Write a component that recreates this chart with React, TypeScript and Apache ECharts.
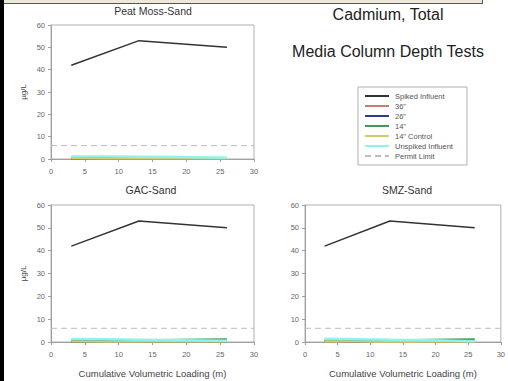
import React, { useEffect, useRef } from "react";
import * as echarts from "echarts";

const panelTitles = ["Peat Moss-Sand", "GAC-Sand", "SMZ-Sand"];
const seriesNames = ["Spiked Influent", '36"', '26"', '14"', '14" Control', "Unspiked Influent", "Permit Limit"];
const seriesColors = ["#333333", "#c4826a", "#2e3a8c", "#3f9a5c", "#d2cc6a", "#8ef2ee", "#bdbdbd"];

const spikedX = [3, 13, 26];
const spikedY = [42, 53, 50];
const permitX = [0, 30];
const permitY = [6, 6];
const lowX = [3, 8, 13, 19, 26];

// per panel: 36", 26", 14", 14" Control, Unspiked Influent
const peat36 = [0.1, 0.1, 0, 0, 0];
const peat26 = [0.1, 0, 0, 0, 0];
const peat14 = [0.6, 0.7, 0.5, 0.3, 0.1];
const peatCtl = [0.2, 0.1, 0.1, 0.1, 0.1];
const peatUn = [1.1, 1.1, 1.0, 0.9, 0.6];

const gac36 = [0.5, 0.4, 0, 0, 0];
const gac26 = [0.1, 0.1, 0.1, 0, 0];
const gac14 = [0.3, 0.2, 0.8, 1.0, 1.2];
const gacCtl = [0.2, 0.1, 0.1, 0.1, 0.1];
const gacUn = [1.3, 1.2, 1.0, 0.8, 0.5];

const smz36 = [0.2, 0.1, 0.1, 0, 0];
const smz26 = [0.6, 0.2, 0.5, 0.2, 0.1];
const smz14 = [0.8, 0.9, 0.7, 1.0, 1.2];
const smzCtl = [0.3, 0.2, 0.1, 0.1, 0.1];
const smzUn = [1.4, 1.2, 1.0, 0.8, 0.3];

const xTicks = [0, 5, 10, 15, 20, 25, 30];
const yTicks = [0, 10, 20, 30, 40, 50, 60];

const panelLow = [
  [peat36, peat26, peat14, peatCtl, peatUn],
  [gac36, gac26, gac14, gacCtl, gacUn],
  [smz36, smz26, smz14, smzCtl, smzUn],
];

const zip = (xs: number[], ys: number[]) => xs.map((x, i) => [x, ys[i]]);

export default function App() {
  const ref = useRef<HTMLDivElement>(null);
  useEffect(() => {
    if (!ref.current) return;
    const chart = echarts.init(ref.current, undefined, { renderer: "svg" });
    const font = "Liberation Sans, Arial, sans-serif";
    const grids = [
      { left: 51, top: 25, width: 203, height: 134 },
      { left: 51, top: 205, width: 203, height: 137 },
      { left: 305, top: 205, width: 203, height: 137 },
    ].map((g) => ({ ...g, show: true, borderColor: "#b0b0b0", borderWidth: 1, backgroundColor: "transparent" }));

    const xAxes = grids.map((_, i) => ({
      type: "value",
      gridIndex: i,
      min: xTicks[0],
      max: xTicks[xTicks.length - 1],
      interval: 5,
      splitLine: { show: false },
      axisLine: { show: true, lineStyle: { color: "#a0a0a0" } },
      axisTick: { show: true, length: 3, lineStyle: { color: "#a0a0a0" } },
      axisLabel: { fontSize: 7.5, color: "#666", margin: 8, fontFamily: font },
      name: i > 0 ? "Cumulative Volumetric Loading (m)" : "",
      nameLocation: "middle",
      nameGap: 26,
      nameTextStyle: { fontSize: 9.5, color: "#444", fontFamily: font },
    }));
    const yAxes = grids.map((_, i) => ({
      type: "value",
      gridIndex: i,
      min: yTicks[0],
      max: yTicks[yTicks.length - 1],
      interval: 10,
      splitLine: { show: false },
      axisLine: { show: true, lineStyle: { color: "#a0a0a0" } },
      axisTick: { show: true, length: 3, lineStyle: { color: "#a0a0a0" } },
      axisLabel: { fontSize: 7.5, color: "#666", margin: 6, fontFamily: font },
      name: i < 2 ? "µg/L" : "",
      nameLocation: "middle",
      nameGap: 24,
      nameRotate: 90,
      nameTextStyle: { fontSize: 8, color: "#444", fontFamily: font },
    }));

    const series: any[] = [];
    for (let p = 0; p < 3; p++) {
      series.push({
        type: "line",
        name: seriesNames[6],
        xAxisIndex: p,
        yAxisIndex: p,
        data: zip(permitX, permitY),
        symbol: "none",
        showSymbol: false,
        lineStyle: { color: seriesColors[6], width: 1, type: [6, 4] },
        itemStyle: { color: seriesColors[6] },
      });
      const lows = panelLow[p];
      for (let s = 0; s < lows.length; s++) {
        series.push({
          type: "line",
          name: seriesNames[s + 1],
          xAxisIndex: p,
          yAxisIndex: p,
          data: zip(lowX, lows[s]),
          symbol: "none",
          showSymbol: false,
          lineStyle: { color: seriesColors[s + 1], width: s === 4 ? 2.5 : 2 },
          itemStyle: { color: seriesColors[s + 1] },
        });
      }
      series.push({
        type: "line",
        name: seriesNames[0],
        xAxisIndex: p,
        yAxisIndex: p,
        data: zip(spikedX, spikedY),
        symbol: "none",
        showSymbol: false,
        lineStyle: { color: seriesColors[0], width: 1.5 },
        itemStyle: { color: seriesColors[0] },
      });
    }

    const txt = (x: number, y: number, text: string, size: number, color = "#333") => ({
      type: "text",
      x,
      y,
      style: { text, fontSize: size, fill: color, fontFamily: font, textAlign: "center", textVerticalAlign: "middle" },
    });

    chart.setOption({
      animation: false,
      backgroundColor: "#ffffff",
      grid: grids,
      xAxis: xAxes,
      yAxis: yAxes,
      series,
      legend: {
        data: seriesNames.map((n) => ({ name: n, textStyle: { color: "#555" } })),
        orient: "vertical",
        left: 358,
        top: 87,
        padding: [5, 14, 5, 6],
        itemWidth: 24,
        itemHeight: 8,
        itemGap: 2,
        borderColor: "#b0b0b0",
        borderWidth: 1,
        selectedMode: false,
        itemStyle: { opacity: 0, borderWidth: 0 },
        textStyle: { fontSize: 7.5, color: "#555", fontFamily: font, padding: [0, 0, 0, 1] },
      },
      graphic: [
        txt(153, 11, panelTitles[0], 10.5),
        txt(151, 190, panelTitles[1], 10.5),
        txt(407, 190, panelTitles[2], 10.5),
        txt(388, 14, "Cadmium, Total", 16, "#222"),
        txt(388, 51, "Media Column Depth Tests", 16, "#222"),
        { type: "rect", shape: { x: 0, y: 0, width: 4, height: 381 }, style: { fill: "#000" } },
        { type: "rect", shape: { x: 4, y: 0, width: 478, height: 3 }, style: { fill: "#ece9d8" } },
        { type: "line", shape: { x1: 4, y1: 3.5, x2: 482, y2: 3.5 }, style: { stroke: "#555", lineWidth: 1 } },
        { type: "line", shape: { x1: 482.5, y1: 0, x2: 482.5, y2: 4 }, style: { stroke: "#555", lineWidth: 1 } },
      ],
    });
    return () => chart.dispose();
  }, []);
  return <div ref={ref} style={{ position: "fixed", left: 0, top: 0, width: 508, height: 381 }} />;
}
